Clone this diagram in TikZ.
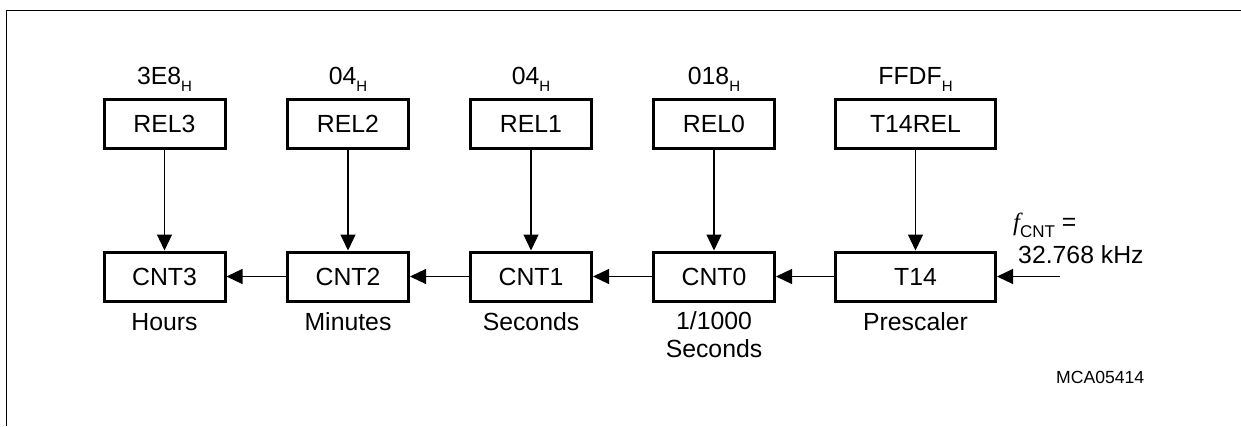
\documentclass[tikz,border=0pt]{standalone}
\usepackage{fontspec}
\setmainfont{Liberation Sans}
\newfontfamily\serifit{Liberation Serif}
\usetikzlibrary{arrows.meta}
\newcommand\hsub[2][15]{\raisebox{-7.5pt}{\fontsize{#1}{#1}\selectfont #2}}
\begin{document}
\begin{tikzpicture}[x=1pt,y=-1pt,
  font=\fontsize{24.8}{28}\selectfont,
  regbox/.style={draw,line width=3pt,minimum width=121pt,minimum height=49pt,inner sep=0pt},
  widebox/.style={regbox,minimum width=160pt},
  arr/.style={line width=1.2pt,-{Triangle[length=16pt,width=15pt]}},
  lbl/.style={anchor=base,inner sep=0pt}]
\useasboundingbox (0,0) rectangle (1241,426);
\draw[line width=1.5pt] (6.7,426) -- (6.7,10.5) -- (1241,10.5);
% reload boxes
\node[regbox] (rel3) at (164.5,124) {REL3};
\node[regbox] (rel2) at (348,124) {REL2};
\node[regbox] (rel1) at (531,124) {REL1};
\node[regbox] (rel0) at (714,124) {REL0};
\node[widebox] (t14rel) at (915.5,124) {T14REL};
% counters
\node[regbox] (cnt3) at (164.5,276.5) {CNT3};
\node[regbox] (cnt2) at (348,276.5) {CNT2};
\node[regbox] (cnt1) at (531,276.5) {CNT1};
\node[regbox] (cnt0) at (714,276.5) {CNT0};
\node[widebox] (t14) at (915.5,276.5) {T14};
% values
\node[lbl] (v3) at (164.5,84) {3E8\hsub{H}};
\node[lbl] (v2) at (348,84) {04\hsub{H}};
\node[lbl] (v1) at (531,84) {04\hsub{H}};
\node[lbl] (v0) at (714,84) {018\hsub{H}};
\node[lbl] (vt) at (915.5,84) {FFDF\hsub{H}};
% descriptions
\node[lbl] (d3) at (164.5,330) {Hours};
\node[lbl] (d2) at (348,330) {Minutes};
\node[lbl] (d1) at (531,330) {Seconds};
\node[lbl] (d0a) at (714,329) {1/1000};
\node[lbl] (d0b) at (714,357) {Seconds};
\node[lbl] (dt) at (915.5,330) {Prescaler};
% arrows
\foreach \a/\b in {rel3/cnt3,rel2/cnt2,rel1/cnt1,rel0/cnt0,t14rel/t14}
  \draw[arr] (\a) -- (\b);
\draw[arr] (cnt2) -- (cnt3);
\draw[arr] (cnt1) -- (cnt2);
\draw[arr] (cnt0) -- (cnt1);
\draw[arr] (t14) -- (cnt0);
\coordinate (fin) at (1060,276.5);
\draw[arr] (fin) -- (t14.east);
\node[anchor=base west,inner sep=0pt] (fl) at (1013,230) {{\serifit\itshape f}\hsub[17]{CNT} =};
\node[anchor=base west,inner sep=0pt] (fv) at (1018,263) {32.768 kHz};
\node[anchor=base west,inner sep=0pt,font=\fontsize{17.6}{20}\selectfont] (id) at (1056,383) {MCA05414};
\end{tikzpicture}
\end{document}
